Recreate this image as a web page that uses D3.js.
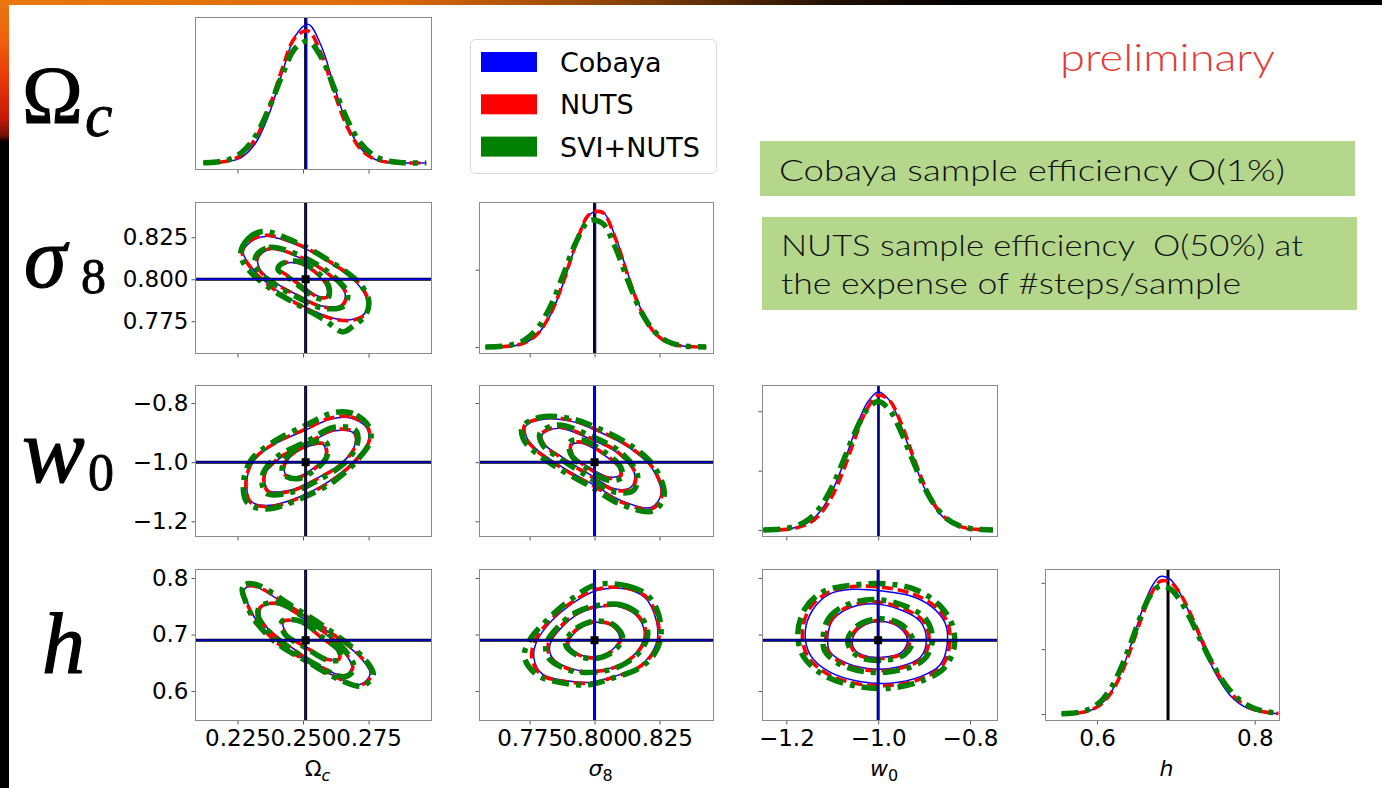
<!DOCTYPE html>
<html><head><meta charset="utf-8">
<script src="https://cdn.jsdelivr.net/npm/d3@7"></script>
<style>
body{margin:0;background:#fff;overflow:hidden}
svg{display:block}
</style>
</head><body>
<script>
// ---------- series ----------
const seriesNames = ["Cobaya", "NUTS", "SVI+NUTS"];

// ---------- parameters ----------
const paramNames = ["Ω_c", "σ_8", "w_0", "h"];
const truth = [0.251, 0.800, -1.0, 0.690];
const xDomains = [[0.2088, 0.2992], [0.7555, 0.846], [-1.253, -0.739], [0.534, 0.832]];
const yDomains = [null, [0.7555, 0.846], [-1.253, -0.739], [0.547, 0.816]];
const xTicks = [[0.225, 0.25, 0.275], [0.775, 0.8, 0.825], [-1.2, -1.0, -0.8], [0.6, 0.8]];
const xTickLabels = [["0.225", "0.250", "0.275"], ["0.775", "0.800", "0.825"], ["−1.2", "−1.0", "−0.8"], ["0.6", "0.8"]];
const yTicks = [null, [0.775, 0.8, 0.825], [-1.2, -1.0, -0.8], [0.6, 0.7, 0.8]];
const yTickLabels = [null, ["0.775", "0.800", "0.825"], ["−1.2", "−1.0", "−0.8"], ["0.6", "0.7", "0.8"]];
const densityTicks = [[], [0, 0.56], [0, 0.43, 0.86], [0, 0.47, 0.95]];

// ---------- 1D marginals (peak-normalised density) ----------
const gridOm = [0.212,0.217,0.222,0.227,0.232,0.237,0.242,0.247,0.252,0.257,0.262,0.267,0.272,0.277,0.282,0.287,0.292,0.297];
const cobayaOmPdf = [0.000,0.002,0.012,0.047,0.146,0.350,0.643,0.912,0.997,0.840,0.546,0.273,0.106,0.031,0.007,0.001,0.000,0.000];
const nutsOmPdf   = [0.001,0.004,0.018,0.063,0.180,0.392,0.674,0.903,0.949,0.782,0.501,0.254,0.099,0.031,0.007,0.001,0.000,0.000];
const sviOmPdf    = [0.002,0.007,0.027,0.082,0.197,0.392,0.629,0.825,0.876,0.759,0.534,0.307,0.142,0.054,0.016,0.004,0.001,0.000];

const gridS8 = [0.758,0.763,0.768,0.773,0.778,0.783,0.788,0.793,0.798,0.803,0.808,0.813,0.818,0.823,0.828,0.833,0.838,0.843];
const cobayaS8Pdf = [0.000,0.001,0.007,0.028,0.091,0.231,0.464,0.749,0.959,0.982,0.800,0.521,0.269,0.111,0.037,0.010,0.002,0.000];
const nutsS8Pdf   = [0.000,0.002,0.008,0.030,0.095,0.238,0.472,0.755,0.960,0.975,0.788,0.508,0.260,0.106,0.035,0.009,0.002,0.000];
const sviS8Pdf    = [0.001,0.004,0.016,0.051,0.136,0.294,0.525,0.765,0.915,0.897,0.722,0.474,0.255,0.113,0.041,0.012,0.003,0.001];

const gridW0 = [-1.25,-1.225,-1.2,-1.175,-1.15,-1.125,-1.1,-1.075,-1.05,-1.025,-1.0,-0.975,-0.95,-0.925,-0.9,-0.875,-0.85,-0.825,-0.8,-0.775,-0.75];
const cobayaW0Pdf = [0.000,0.002,0.007,0.022,0.060,0.140,0.282,0.486,0.719,0.915,1.000,0.937,0.755,0.522,0.310,0.158,0.069,0.026,0.008,0.002,0.001];
const nutsW0Pdf   = [0.000,0.001,0.005,0.018,0.050,0.121,0.247,0.438,0.668,0.872,0.976,0.937,0.773,0.547,0.332,0.173,0.078,0.030,0.010,0.003,0.001];
const sviW0Pdf    = [0.001,0.004,0.012,0.034,0.081,0.171,0.315,0.508,0.710,0.869,0.930,0.869,0.710,0.508,0.315,0.171,0.081,0.034,0.012,0.004,0.001];

const gridH = [0.555,0.5675,0.58,0.5925,0.605,0.6175,0.63,0.6425,0.655,0.6675,0.68,0.6925,0.705,0.7175,0.73,0.7425,0.755,0.7675,0.78,0.7925,0.805,0.8175,0.83];
const cobayaHPdf = [0.001,0.003,0.010,0.029,0.072,0.156,0.297,0.492,0.714,0.901,0.996,0.976,0.877,0.726,0.551,0.383,0.247,0.144,0.078,0.039,0.018,0.008,0.003];
const nutsHPdf   = [0.001,0.003,0.011,0.030,0.071,0.151,0.282,0.466,0.672,0.856,0.960,0.956,0.875,0.738,0.575,0.411,0.274,0.167,0.094,0.049,0.023,0.011,0.004];
const sviHPdf    = [0.002,0.006,0.017,0.042,0.094,0.187,0.329,0.508,0.702,0.858,0.928,0.907,0.825,0.699,0.551,0.405,0.279,0.178,0.106,0.059,0.030,0.015,0.007];

// ---------- 2D credible contours: [outer, middle, inner] rings, points as [x, y] ----------
// Omega_c vs sigma_8
const cobayaOmS8 = [
  [[0.2272,0.8160],[0.2300,0.8222],[0.2361,0.8256],[0.2489,0.8196],[0.2603,0.8097],[0.2705,0.7978],[0.2743,0.7879],[0.2737,0.7799],[0.2692,0.7762],[0.2629,0.7764],[0.2514,0.7829],[0.2387,0.7948],[0.2304,0.8070]],
  [[0.2329,0.8127],[0.2374,0.8177],[0.2489,0.8127],[0.2603,0.8018],[0.2660,0.7918],[0.2648,0.7849],[0.2577,0.7839],[0.2489,0.7899],[0.2387,0.7988],[0.2336,0.8058]],
  [[0.2419,0.8088],[0.2476,0.8097],[0.2546,0.8038],[0.2590,0.7958],[0.2590,0.7899],[0.2558,0.7899],[0.2501,0.7958],[0.2438,0.8028],[0.2410,0.8058]]
];
const nutsOmS8 = [
  [[0.2268,0.8163],[0.2298,0.8228],[0.2363,0.8262],[0.2492,0.8200],[0.2607,0.8100],[0.2710,0.7980],[0.2748,0.7878],[0.2741,0.7796],[0.2694,0.7758],[0.2627,0.7760],[0.2512,0.7826],[0.2384,0.7946],[0.2300,0.8070]],
  [[0.2326,0.8130],[0.2372,0.8182],[0.2490,0.8132],[0.2606,0.8020],[0.2664,0.7916],[0.2650,0.7845],[0.2576,0.7835],[0.2486,0.7896],[0.2384,0.7986],[0.2332,0.8058]],
  [[0.2416,0.8090],[0.2476,0.8102],[0.2549,0.8040],[0.2594,0.7956],[0.2593,0.7894],[0.2556,0.7895],[0.2498,0.7955],[0.2436,0.8027],[0.2407,0.8058]]
];
const sviOmS8 = [
  [[0.2262,0.8150],[0.2290,0.8240],[0.2345,0.8285],[0.2480,0.8215],[0.2600,0.8110],[0.2710,0.7985],[0.2750,0.7880],[0.2740,0.7790],[0.2690,0.7720],[0.2652,0.7686],[0.2580,0.7760],[0.2490,0.7840],[0.2380,0.7940],[0.2290,0.8060]],
  [[0.2320,0.8135],[0.2370,0.8190],[0.2490,0.8140],[0.2610,0.8025],[0.2670,0.7915],[0.2655,0.7840],[0.2575,0.7828],[0.2482,0.7890],[0.2380,0.7982],[0.2325,0.8060]],
  [[0.2412,0.8085],[0.2478,0.8108],[0.2552,0.8045],[0.2598,0.7958],[0.2595,0.7890],[0.2552,0.7888],[0.2495,0.7950],[0.2432,0.8025],[0.2405,0.8055]]
];

// Omega_c vs w_0
const cobayaOmW0 = [
  [[0.2743,-0.884],[0.2679,-0.850],[0.2603,-0.855],[0.2514,-0.890],[0.2387,-0.941],[0.2310,-0.998],[0.2285,-1.078],[0.2304,-1.134],[0.2374,-1.146],[0.2501,-1.112],[0.2616,-1.055],[0.2705,-0.986],[0.2749,-0.929]],
  [[0.2692,-0.901],[0.2616,-0.895],[0.2514,-0.941],[0.2412,-0.986],[0.2355,-1.043],[0.2368,-1.095],[0.2450,-1.095],[0.2552,-1.055],[0.2654,-0.998],[0.2698,-0.941]],
  [[0.2577,-0.941],[0.2489,-0.958],[0.2438,-0.998],[0.2431,-1.038],[0.2476,-1.049],[0.2539,-1.021],[0.2584,-0.981]]
];
const nutsOmW0 = [
  [[0.2746,-0.880],[0.2680,-0.846],[0.2600,-0.852],[0.2510,-0.888],[0.2384,-0.940],[0.2306,-0.998],[0.2282,-1.080],[0.2302,-1.138],[0.2376,-1.150],[0.2504,-1.114],[0.2620,-1.056],[0.2709,-0.986],[0.2753,-0.927]],
  [[0.2695,-0.898],[0.2614,-0.891],[0.2510,-0.940],[0.2408,-0.986],[0.2352,-1.045],[0.2366,-1.099],[0.2452,-1.098],[0.2556,-1.056],[0.2658,-0.998],[0.2702,-0.939]],
  [[0.2580,-0.938],[0.2486,-0.956],[0.2434,-0.998],[0.2428,-1.040],[0.2476,-1.053],[0.2542,-1.023],[0.2588,-0.980]]
];
const sviOmW0 = [
  [[0.2750,-0.878],[0.2690,-0.835],[0.2620,-0.832],[0.2510,-0.875],[0.2380,-0.935],[0.2300,-0.995],[0.2272,-1.080],[0.2290,-1.140],[0.2360,-1.158],[0.2500,-1.120],[0.2625,-1.060],[0.2712,-0.988],[0.2758,-0.925]],
  [[0.2700,-0.892],[0.2620,-0.882],[0.2510,-0.932],[0.2400,-0.982],[0.2345,-1.045],[0.2360,-1.105],[0.2455,-1.102],[0.2560,-1.060],[0.2662,-1.000],[0.2708,-0.935]],
  [[0.2585,-0.930],[0.2480,-0.952],[0.2428,-0.996],[0.2424,-1.040],[0.2478,-1.056],[0.2546,-1.026],[0.2592,-0.978]]
];

// sigma_8 vs w_0
const cobayaS8W0 = [
  [[0.7734,-0.879],[0.7810,-0.854],[0.7912,-0.862],[0.8014,-0.896],[0.8129,-0.948],[0.8218,-1.016],[0.8256,-1.107],[0.8218,-1.153],[0.8103,-1.130],[0.8001,-1.079],[0.7874,-1.016],[0.7772,-0.953],[0.7740,-0.919]],
  [[0.7798,-0.908],[0.7861,-0.885],[0.7976,-0.919],[0.8090,-0.970],[0.8154,-1.039],[0.8141,-1.084],[0.8077,-1.090],[0.7976,-1.039],[0.7874,-0.982],[0.7810,-0.942]],
  [[0.7912,-0.942],[0.7950,-0.936],[0.8027,-0.970],[0.8090,-1.016],[0.8097,-1.044],[0.8052,-1.050],[0.7976,-1.016],[0.7919,-0.976]]
];
const nutsS8W0 = [
  [[0.7730,-0.876],[0.7808,-0.850],[0.7914,-0.859],[0.8016,-0.894],[0.8133,-0.947],[0.8222,-1.016],[0.8260,-1.110],[0.8220,-1.158],[0.8100,-1.134],[0.7998,-1.081],[0.7870,-1.018],[0.7768,-0.954],[0.7736,-0.918]],
  [[0.7795,-0.906],[0.7860,-0.881],[0.7978,-0.916],[0.8094,-0.969],[0.8158,-1.040],[0.8144,-1.088],[0.8076,-1.094],[0.7973,-1.041],[0.7870,-0.984],[0.7806,-0.942]],
  [[0.7910,-0.939],[0.7951,-0.932],[0.8030,-0.968],[0.8094,-1.016],[0.8101,-1.047],[0.8052,-1.054],[0.7973,-1.018],[0.7916,-0.976]]
];
const sviS8W0 = [
  [[0.7722,-0.880],[0.7790,-0.848],[0.7905,-0.852],[0.8020,-0.888],[0.8140,-0.944],[0.8230,-1.015],[0.8268,-1.112],[0.8225,-1.165],[0.8095,-1.140],[0.7990,-1.085],[0.7862,-1.022],[0.7760,-0.958],[0.7725,-0.920]],
  [[0.7790,-0.902],[0.7858,-0.874],[0.7982,-0.910],[0.8100,-0.966],[0.8165,-1.042],[0.8150,-1.095],[0.8072,-1.100],[0.7968,-1.045],[0.7864,-0.986],[0.7800,-0.942]],
  [[0.7905,-0.932],[0.7952,-0.925],[0.8035,-0.964],[0.8100,-1.016],[0.8106,-1.052],[0.8050,-1.060],[0.7968,-1.020],[0.7910,-0.976]]
];

// Omega_c vs h
const cobayaOmH = [
  [[0.2276,0.7790],[0.2290,0.7850],[0.2325,0.7835],[0.2450,0.7483],[0.2590,0.7071],[0.2718,0.6598],[0.2756,0.6304],[0.2718,0.6115],[0.2629,0.6245],[0.2514,0.6540],[0.2412,0.6835],[0.2323,0.7248],[0.2285,0.7600]],
  [[0.2342,0.7483],[0.2400,0.7543],[0.2514,0.7248],[0.2629,0.6835],[0.2686,0.6421],[0.2654,0.6274],[0.2552,0.6481],[0.2438,0.6835],[0.2361,0.7129],[0.2336,0.7336]],
  [[0.2425,0.7218],[0.2489,0.7218],[0.2565,0.6952],[0.2629,0.6717],[0.2635,0.6570],[0.2590,0.6570],[0.2514,0.6775],[0.2438,0.7012]]
];
const nutsOmH = [
  [[0.2273,0.7795],[0.2288,0.7858],[0.2328,0.7842],[0.2453,0.7490],[0.2594,0.7075],[0.2722,0.6598],[0.2762,0.6300],[0.2722,0.6105],[0.2628,0.6238],[0.2512,0.6535],[0.2408,0.6832],[0.2320,0.7250],[0.2282,0.7605]],
  [[0.2338,0.7488],[0.2400,0.7552],[0.2516,0.7252],[0.2633,0.6836],[0.2690,0.6418],[0.2656,0.6266],[0.2550,0.6476],[0.2434,0.6833],[0.2358,0.7130],[0.2332,0.7340]],
  [[0.2422,0.7225],[0.2490,0.7225],[0.2568,0.6955],[0.2633,0.6716],[0.2638,0.6565],[0.2590,0.6562],[0.2512,0.6772],[0.2434,0.7012]]
];
const sviOmH = [
  [[0.2268,0.7800],[0.2282,0.7890],[0.2330,0.7870],[0.2460,0.7500],[0.2600,0.7080],[0.2728,0.6600],[0.2768,0.6290],[0.2725,0.6090],[0.2640,0.6200],[0.2515,0.6525],[0.2405,0.6830],[0.2315,0.7255],[0.2278,0.7620]],
  [[0.2335,0.7495],[0.2402,0.7565],[0.2518,0.7260],[0.2638,0.6838],[0.2695,0.6410],[0.2660,0.6255],[0.2548,0.6470],[0.2430,0.6830],[0.2354,0.7132],[0.2328,0.7345]],
  [[0.2420,0.7235],[0.2492,0.7232],[0.2572,0.6958],[0.2638,0.6714],[0.2642,0.6560],[0.2590,0.6555],[0.2510,0.6768],[0.2430,0.7012]]
];

// sigma_8 vs h
const cobayaS8H = [
  [[0.8008,0.7779],[0.8116,0.7809],[0.8192,0.7660],[0.8230,0.7366],[0.8243,0.6952],[0.8218,0.6658],[0.8167,0.6421],[0.8065,0.6244],[0.7989,0.6156],[0.7887,0.6186],[0.7798,0.6304],[0.7766,0.6598],[0.7779,0.6894],[0.7836,0.7248],[0.7912,0.7543]],
  [[0.8014,0.7483],[0.8103,0.7483],[0.8167,0.7306],[0.8192,0.7012],[0.8167,0.6717],[0.8103,0.6481],[0.8014,0.6363],[0.7912,0.6393],[0.7836,0.6598],[0.7829,0.6835],[0.7874,0.7129],[0.7938,0.7366]],
  [[0.8001,0.7218],[0.8065,0.7159],[0.8097,0.6952],[0.8065,0.6717],[0.8001,0.6598],[0.7938,0.6658],[0.7900,0.6835],[0.7925,0.7041],[0.7963,0.7159]]
];
const nutsS8H = [
  [[0.8010,0.7800],[0.8120,0.7825],[0.8198,0.7670],[0.8236,0.7370],[0.8248,0.6950],[0.8222,0.6650],[0.8168,0.6412],[0.8064,0.6232],[0.7985,0.6140],[0.7880,0.6172],[0.7792,0.6295],[0.7758,0.6598],[0.7772,0.6900],[0.7830,0.7258],[0.7908,0.7560]],
  [[0.8016,0.7500],[0.8106,0.7498],[0.8172,0.7312],[0.8198,0.7012],[0.8170,0.6710],[0.8104,0.6470],[0.8012,0.6350],[0.7908,0.6382],[0.7830,0.6594],[0.7822,0.6838],[0.7868,0.7138],[0.7934,0.7380]],
  [[0.8002,0.7228],[0.8068,0.7166],[0.8102,0.6952],[0.8068,0.6710],[0.8000,0.6588],[0.7934,0.6652],[0.7895,0.6835],[0.7920,0.7046],[0.7960,0.7168]]
];
const sviS8H = [
  [[0.8005,0.7880],[0.8125,0.7860],[0.8205,0.7690],[0.8245,0.7380],[0.8255,0.6945],[0.8228,0.6640],[0.8170,0.6400],[0.8060,0.6215],[0.7975,0.6110],[0.7870,0.6150],[0.7780,0.6280],[0.7730,0.6600],[0.7750,0.6900],[0.7820,0.7270],[0.7900,0.7590]],
  [[0.8018,0.7520],[0.8110,0.7515],[0.8178,0.7320],[0.8205,0.7012],[0.8175,0.6700],[0.8105,0.6455],[0.8010,0.6335],[0.7902,0.6370],[0.7822,0.6590],[0.7814,0.6840],[0.7862,0.7148],[0.7930,0.7395]],
  [[0.8004,0.7240],[0.8072,0.7175],[0.8108,0.6952],[0.8072,0.6700],[0.7998,0.6575],[0.7928,0.6645],[0.7888,0.6835],[0.7914,0.7052],[0.7956,0.7178]]
];

// w_0 vs h
const cobayaW0H = [
  [[-1.159,0.7029],[-1.143,0.7430],[-1.106,0.7716],[-1.056,0.7800],[-0.990,0.7770],[-0.932,0.7690],[-0.883,0.7490],[-0.854,0.7200],[-0.850,0.6800],[-0.866,0.6456],[-0.908,0.6255],[-0.974,0.6140],[-1.040,0.6169],[-1.106,0.6340],[-1.147,0.6628]],
  [[-1.110,0.6914],[-1.101,0.7229],[-1.073,0.7430],[-1.015,0.7544],[-0.949,0.7430],[-0.908,0.7229],[-0.895,0.6914],[-0.908,0.6599],[-0.957,0.6427],[-1.023,0.6398],[-1.081,0.6542],[-1.106,0.6713]],
  [[-1.056,0.6914],[-1.040,0.7115],[-0.998,0.7229],[-0.957,0.7143],[-0.936,0.6914],[-0.949,0.6685],[-0.990,0.6599],[-1.031,0.6628],[-1.052,0.6742]]
];
const nutsW0H = [
  [[-1.165,0.7030],[-1.150,0.7450],[-1.110,0.7740],[-1.055,0.7850],[-0.985,0.7830],[-0.925,0.7720],[-0.876,0.7500],[-0.848,0.7200],[-0.845,0.6790],[-0.862,0.6430],[-0.906,0.6220],[-0.975,0.6100],[-1.045,0.6130],[-1.112,0.6310],[-1.154,0.6620]],
  [[-1.114,0.6914],[-1.104,0.7240],[-1.074,0.7460],[-1.012,0.7580],[-0.945,0.7460],[-0.902,0.7240],[-0.889,0.6910],[-0.904,0.6580],[-0.955,0.6400],[-1.025,0.6370],[-1.085,0.6525],[-1.110,0.6710]],
  [[-1.060,0.6914],[-1.043,0.7130],[-0.998,0.7250],[-0.954,0.7160],[-0.931,0.6910],[-0.946,0.6670],[-0.990,0.6575],[-1.034,0.6610],[-1.056,0.6740]]
];
const sviW0H = [
  [[-1.175,0.7000],[-1.160,0.7450],[-1.120,0.7760],[-1.060,0.7870],[-0.990,0.7900],[-0.920,0.7800],[-0.868,0.7530],[-0.840,0.7200],[-0.834,0.6800],[-0.856,0.6410],[-0.905,0.6180],[-0.975,0.6050],[-1.050,0.6090],[-1.118,0.6280],[-1.162,0.6600]],
  [[-1.120,0.6914],[-1.110,0.7260],[-1.076,0.7500],[-1.010,0.7620],[-0.940,0.7500],[-0.895,0.7260],[-0.882,0.6900],[-0.900,0.6560],[-0.953,0.6370],[-1.028,0.6340],[-1.090,0.6505],[-1.116,0.6705]],
  [[-1.066,0.6914],[-1.046,0.7150],[-0.998,0.7280],[-0.950,0.7180],[-0.925,0.6900],[-0.942,0.6650],[-0.990,0.6545],[-1.038,0.6590],[-1.060,0.6735]]
];

// ---------- slide text ----------
const stampText = "preliminary";
const noteLines1 = ["Cobaya sample efficiency O(1%)"];
const noteLines2 = ["NUTS sample efficiency  O(50%) at", "the expense of #steps/sample"];

// ---------- layout ----------
const W = 1382, H = 788;
const colX = [[195, 432], [479, 714], [762, 998], [1045, 1280]];
const rowY = [[17, 170], [202, 354], [385, 537], [569, 721]];
const colors = ["#0000ff", "#ff0000", "#008000"];
const widths = [1.5, 3.6, 5.5];
const dashes = [null, "11,5", "17,7,5,7"];

const svg = d3.select("body").append("svg").attr("width", W).attr("height", H);
const defs = svg.append("defs");

// slide frame accents
const gTop = defs.append("linearGradient").attr("id", "topband").attr("x1", 0).attr("x2", 1).attr("y1", 0).attr("y2", 0);
[[0, "#e8780c"], [0.28, "#dd6a08"], [0.45, "#8a4208"], [0.6, "#241004"], [0.7, "#000"], [1, "#000"]]
  .forEach(([o, c]) => gTop.append("stop").attr("offset", o).attr("stop-color", c));
const gLeft = defs.append("linearGradient").attr("id", "leftband").attr("x1", 0).attr("x2", 0).attr("y1", 0).attr("y2", 1);
[[0, "#e8780c"], [0.05, "#f06010"], [0.1, "#e83808"], [0.15, "#c81808"], [0.172, "#701008"], [0.18, "#000"], [1, "#000"]]
  .forEach(([o, c]) => gLeft.append("stop").attr("offset", o).attr("stop-color", c));
svg.append("rect").attr("x", 0).attr("y", 0).attr("width", W).attr("height", 5).attr("fill", "url(#topband)");
svg.append("rect").attr("x", 0).attr("y", 0).attr("width", 9).attr("height", H).attr("fill", "url(#leftband)");

// ---------- scales ----------
const xScales = xDomains.map((d, i) => d3.scaleLinear().domain(d).range(colX[i]));
const yScales = yDomains.map((d, j) => d ? d3.scaleLinear().domain(d).range([rowY[j][1], rowY[j][0]]) : null);
const densScales = rowY.map(r => d3.scaleLinear().domain([-0.05, 1.05]).range([r[1], r[0]]));

const tickFont = "DejaVu Sans, sans-serif";

function makePanel(i, j) {
  const x0 = colX[i][0], x1 = colX[i][1], y0 = rowY[j][0], y1 = rowY[j][1];
  const id = `clip-${i}-${j}`;
  defs.append("clipPath").attr("id", id).append("rect")
    .attr("x", x0).attr("y", y0).attr("width", x1 - x0).attr("height", y1 - y0);
  const g = svg.append("g");
  const inner = g.append("g").attr("clip-path", `url(#${id})`);
  return { g, inner, x0, x1, y0, y1 };
}

function styleAxis(sel) {
  sel.select(".domain").remove();
  sel.selectAll(".tick line").attr("stroke", "#444").attr("stroke-width", 0.9);
  sel.selectAll(".tick text").attr("font-family", tickFont).attr("font-size", 23).attr("fill", "#000");
}

function drawFrame(p) {
  p.g.append("rect").attr("x", p.x0 + 0.5).attr("y", p.y0 + 0.5)
    .attr("width", p.x1 - p.x0 - 1).attr("height", p.y1 - p.y0 - 1)
    .attr("fill", "none").attr("stroke", "#8a8a8a").attr("stroke-width", 1);
}

function applyStroke(path, s) {
  path.attr("fill", "none").attr("stroke", colors[s]).attr("stroke-width", widths[s])
    .attr("stroke-linecap", "butt").attr("stroke-linejoin", "round");
  if (dashes[s]) path.attr("stroke-dasharray", dashes[s]);
}

// ---------- diagonal panels ----------
const diagGrids = [gridOm, gridS8, gridW0, gridH];
const diagPdfs = [
  [cobayaOmPdf, nutsOmPdf, sviOmPdf],
  [cobayaS8Pdf, nutsS8Pdf, sviS8Pdf],
  [cobayaW0Pdf, nutsW0Pdf, sviW0Pdf],
  [cobayaHPdf, nutsHPdf, sviHPdf]
];

diagGrids.forEach((grid, k) => {
  const p = makePanel(k, k);
  const xs = xScales[k], ys = densScales[k];
  const line = d3.line().x(d => xs(d[0])).y(d => ys(d[1])).curve(d3.curveCatmullRom.alpha(0.5));
  // reference value
  const tx = xs(truth[k]);
  p.inner.append("line").attr("x1", tx).attr("x2", tx).attr("y1", p.y0).attr("y2", p.y1)
    .attr("stroke", "#000").attr("stroke-width", k === 2 ? 2 : 3);
  if (k !== 3) {
    p.inner.append("line").attr("x1", tx + 1).attr("x2", tx + 1).attr("y1", p.y0).attr("y2", p.y1)
      .attr("stroke", "#0000ff").attr("stroke-width", 1.4);
  }
  diagPdfs[k].forEach((pdf, s) => {
    const pts = grid.map((g, n) => [g, pdf[n]]);
    applyStroke(p.inner.append("path").attr("d", line(pts)), s);
  });
  drawFrame(p);
  const ax = p.g.append("g").attr("transform", `translate(0,${p.y1})`)
    .call(d3.axisBottom(xs).tickValues(xTicks[k]).tickSize(3.5).tickPadding(5)
      .tickFormat((d, n) => k === 3 ? xTickLabels[k][n] : ""));
  styleAxis(ax);
  if (densityTicks[k].length) {
    const ay = p.g.append("g").attr("transform", `translate(${p.x0},0)`)
      .call(d3.axisLeft(ys).tickValues(densityTicks[k]).tickSize(3.5).tickFormat(""));
    styleAxis(ay);
  }
});

// ---------- off-diagonal panels ----------
const pairs = [[0, 1], [0, 2], [1, 2], [0, 3], [1, 3], [2, 3]];
const pairContours = [
  [cobayaOmS8, nutsOmS8, sviOmS8],
  [cobayaOmW0, nutsOmW0, sviOmW0],
  [cobayaS8W0, nutsS8W0, sviS8W0],
  [cobayaOmH, nutsOmH, sviOmH],
  [cobayaS8H, nutsS8H, sviS8H],
  [cobayaW0H, nutsW0H, sviW0H]
];

pairs.forEach(([i, j], n) => {
  const p = makePanel(i, j);
  const xs = xScales[i], ys = yScales[j];
  const ring = d3.line().x(d => xs(d[0])).y(d => ys(d[1])).curve(d3.curveCatmullRomClosed.alpha(0.5));
  const tx = xs(truth[i]), ty = ys(truth[j]);
  pairContours[n].forEach((rings, s) => {
    rings.forEach(r => applyStroke(p.inner.append("path").attr("d", ring(r)), s));
  });
  // reference cross-hair
  [["#000", 3], ["#0000ff", 1.3]].forEach(([c, w]) => {
    p.inner.append("line").attr("x1", tx).attr("x2", tx).attr("y1", p.y0).attr("y2", p.y1)
      .attr("stroke", c).attr("stroke-width", w);
    p.inner.append("line").attr("x1", p.x0).attr("x2", p.x1).attr("y1", ty).attr("y2", ty)
      .attr("stroke", c).attr("stroke-width", w);
  });
  p.inner.append("rect").attr("x", tx - 4).attr("y", ty - 4).attr("width", 8).attr("height", 8).attr("fill", "#000");
  drawFrame(p);
  const ax = p.g.append("g").attr("transform", `translate(0,${p.y1})`)
    .call(d3.axisBottom(xs).tickValues(xTicks[i]).tickSize(3.5).tickPadding(5)
      .tickFormat((d, m) => j === 3 ? xTickLabels[i][m] : ""));
  styleAxis(ax);
  const ay = p.g.append("g").attr("transform", `translate(${p.x0},0)`)
    .call(d3.axisLeft(ys).tickValues(yTicks[j]).tickSize(3.5).tickPadding(3)
      .tickFormat((d, m) => i === 0 ? yTickLabels[j][m] : ""));
  styleAxis(ay);
});

// ---------- axis titles (bottom) ----------
const axisTitleSpec = [["Ω", "c", false, true], ["σ", "8", true, false], ["w", "0", true, false], ["h", null, true, false]];
axisTitleSpec.forEach(([m, s, im, is], k) => {
  const t = svg.append("text").attr("x", (colX[k][0] + colX[k][1]) / 2 + 4).attr("y", 776)
    .attr("text-anchor", "middle").attr("font-family", tickFont).attr("font-size", 22);
  t.append("tspan").text(m).attr("font-style", im ? "italic" : "normal");
  if (s) t.append("tspan").text(s).attr("font-size", 16).attr("dy", 5)
    .attr("font-style", is ? "italic" : "normal");
});

// ---------- row titles (left, large; symbol and subscript as separate texts) ----------
const rowTitleSpec = [
  { main: "Ω", sub: "c", im: false, is: true, x: 22, y: 123, size: 82, sx: 85, sy: 136, subSize: 62 },
  { main: "σ", sub: "8", im: true, is: false, x: 24, y: 287, size: 86, sx: 81, sy: 293, subSize: 50 },
  { main: "w", sub: "0", im: true, is: false, x: 22, y: 482, size: 94, sx: 88, sy: 490, subSize: 52 },
  { main: "h", sub: null, im: true, is: false, x: 42, y: 673, size: 86, sx: 0, sy: 0, subSize: 0 }
];
rowTitleSpec.forEach(r => {
  svg.append("text").attr("x", r.x).attr("y", r.y)
    .attr("font-family", "Liberation Serif, serif").attr("font-size", r.size)
    .attr("font-style", r.im ? "italic" : "normal")
    .attr("fill", "#000").attr("stroke", "#000").attr("stroke-width", 1.2).text(r.main);
  if (r.sub) svg.append("text").attr("x", r.sx).attr("y", r.sy)
    .attr("font-family", "Liberation Serif, serif").attr("font-size", r.subSize)
    .attr("font-style", r.is ? "italic" : "normal")
    .attr("fill", "#000").attr("stroke", "#000").attr("stroke-width", 0.8).text(r.sub);
});

// ---------- legend ----------
const lg = svg.append("g");
lg.append("rect").attr("x", 470.5).attr("y", 39.5).attr("width", 246).attr("height", 134).attr("rx", 5)
  .attr("fill", "#fff").attr("stroke", "#d9d9d9").attr("stroke-width", 1);
seriesNames.forEach((name, s) => {
  const yb = 72 + s * 42.3;
  lg.append("rect").attr("x", 481).attr("y", yb - 20).attr("width", 56).attr("height", 20).attr("fill", colors[s]);
  lg.append("text").attr("x", 560).attr("y", yb).attr("font-family", tickFont).attr("font-size", 27)
    .attr("fill", "#000").text(name);
});

// ---------- slide annotations ----------
const slideFont = "Lato, 'Open Sans', sans-serif";
svg.append("text").attr("x", 1060).attr("y", 71).attr("font-family", slideFont).attr("font-size", 38)
  .attr("font-weight", 300)
  .attr("fill", "#e23b36").attr("textLength", 215).attr("lengthAdjust", "spacingAndGlyphs").text(stampText);

svg.append("rect").attr("x", 760).attr("y", 141).attr("width", 595).attr("height", 55).attr("fill", "#b4d78c");
svg.append("text").attr("x", 779).attr("y", 181).attr("font-family", slideFont).attr("font-size", 30)
  .attr("font-weight", 300)
  .attr("fill", "#111").attr("textLength", 506).attr("lengthAdjust", "spacingAndGlyphs").text(noteLines1[0]);

svg.append("rect").attr("x", 762).attr("y", 217).attr("width", 595).attr("height", 93).attr("fill", "#b4d78c");
[[noteLines2[0], 256, 522], [noteLines2[1], 294, 460]].forEach(([txt, y, len]) => {
  svg.append("text").attr("x", 781).attr("y", y).attr("font-family", slideFont).attr("font-size", 30)
    .attr("font-weight", 300)
    .attr("fill", "#111").attr("textLength", len).attr("lengthAdjust", "spacingAndGlyphs")
    .style("white-space", "pre").text(txt);
});
</script>
</body></html>
